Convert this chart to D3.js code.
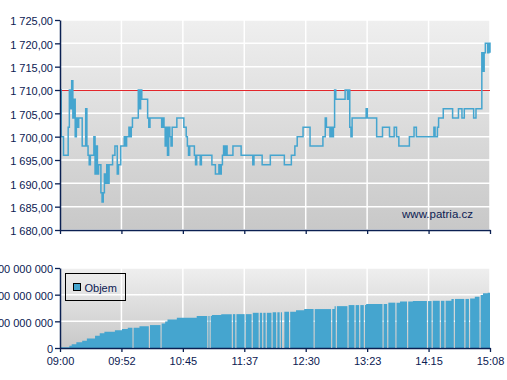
<!DOCTYPE html>
<html>
<head>
<meta charset="utf-8">
<script src="https://cdn.jsdelivr.net/npm/d3@7"></script>
<style>
  body { margin: 0; background: #fff; }
  text { font-family: Arial, "Liberation Sans", sans-serif; }
</style>
</head>
<body>
<div id="chart"></div>
<script>
"use strict";

/* global d3 */

// price in CZK, value from that minute on
const priceTimes = [
  "09:00", "09:01", "09:03", "09:07", "09:08", "09:09", "09:10", "09:11", "09:12", "09:13",
  "09:14", "09:15", "09:16", "09:19", "09:22", "09:23", "09:24", "09:25", "09:26", "09:29",
  "09:30", "09:31", "09:32", "09:33", "09:35", "09:36", "09:37", "09:38", "09:39", "09:40",
  "09:41", "09:42", "09:45", "09:47", "09:49", "09:50", "09:52", "09:55", "09:56", "09:57",
  "09:59", "10:00", "10:01", "10:02", "10:07", "10:08", "10:09", "10:10", "10:15", "10:16",
  "10:17", "10:27", "10:28", "10:29", "10:30", "10:31", "10:32", "10:33", "10:34", "10:35",
  "10:36", "10:40", "10:46", "10:48", "10:49", "10:50", "10:51", "10:55", "10:56", "10:57",
  "11:00", "11:01", "11:10", "11:13", "11:16", "11:17", "11:18", "11:19", "11:20", "11:21",
  "11:22", "11:23", "11:28", "11:35", "11:45", "11:46", "11:53", "12:00", "12:12", "12:18",
  "12:21", "12:23", "12:28", "12:34", "12:45", "12:47", "12:48", "12:51", "12:52", "12:53",
  "12:54", "12:55", "12:56", "13:04", "13:06", "13:07", "13:08", "13:09", "13:10", "13:22",
  "13:23", "13:31", "13:36", "13:42", "13:46", "13:48", "13:50", "13:59", "14:03", "14:05",
  "14:20", "14:21", "14:23", "14:24", "14:28", "14:36", "14:41", "14:44", "14:46", "14:54",
  "14:56", "15:01", "15:02", "15:03", "15:04", "15:06", "15:07", "15:08"
];
const priceValues = [
  1710, 1700, 1696, 1702, 1710, 1706, 1712, 1704, 1708, 1700,
  1704, 1702, 1704, 1698, 1706, 1698, 1696, 1694, 1696, 1700,
  1692, 1698, 1692, 1694, 1688, 1686, 1688, 1692, 1690, 1694,
  1690, 1694, 1696, 1698, 1692, 1694, 1698, 1700, 1698, 1700,
  1702, 1700, 1702, 1704, 1710, 1706, 1710, 1708, 1704, 1702,
  1704, 1702, 1704, 1702, 1698, 1702, 1696, 1702, 1700, 1698,
  1702, 1704, 1702, 1700, 1698, 1696, 1698, 1696, 1694, 1696,
  1694, 1696, 1694, 1692, 1694, 1692, 1694, 1696, 1698, 1696,
  1698, 1696, 1698, 1696, 1694, 1696, 1694, 1696, 1694, 1696,
  1698, 1700, 1702, 1698, 1700, 1704, 1702, 1700, 1702, 1700,
  1702, 1710, 1708, 1710, 1708, 1710, 1702, 1700, 1704, 1706,
  1704, 1700, 1702, 1700, 1702, 1700, 1698, 1700, 1702, 1700,
  1702, 1700, 1702, 1704, 1706, 1704, 1706, 1704, 1706, 1704,
  1706, 1718, 1714, 1718, 1720, 1718, 1720, 1718
];
const refPrice = 1710;
const priceTicks = [1680, 1685, 1690, 1695, 1700, 1705, 1710, 1715, 1720, 1725];

// cumulative volume in millions, value from that minute on
const volTimes = [
  "09:00", "09:08", "09:10", "09:14", "09:19", "09:23", "09:30", "09:34", "09:38", "09:47",
  "09:53", "09:58", "10:08", "10:17", "10:27", "10:30", "10:32", "10:40", "10:57", "11:10",
  "11:18", "11:45", "12:02", "12:12", "12:22", "12:29", "12:55", "13:06", "13:22", "13:41",
  "13:51", "14:02", "14:19", "14:35", "14:51", "14:55", "14:59", "15:02", "15:06"
];
const volValues = [
  3, 8, 14, 22, 27, 36, 46, 55, 61, 67,
  71, 76, 82, 86, 92, 99, 107, 113, 120, 124,
  127, 132, 134, 136, 142, 146, 157, 161, 165, 170,
  174, 176, 177, 184, 186, 192, 199, 205, 207
];
// minutes without trades (white gaps in the bars)
const volGaps = [
  "10:02", "10:16", "10:26", "11:06", "11:08", "11:27", "11:30", "11:38", "11:44", "11:50",
  "11:53", "11:56", "12:01", "12:05", "12:08", "12:10", "12:11", "12:16", "12:37", "12:52",
  "12:56", "13:06", "13:12", "13:16", "13:20", "13:36", "13:40", "13:47", "13:57", "14:14",
  "14:18", "14:25", "14:29", "14:37", "14:46", "14:50", "14:59"
];
const volTicks = [0, 100, 200, 300];

const timeLabels = ["09:00", "09:52", "10:45", "11:37", "12:30", "13:23", "14:15", "15:08"];
const legendLabel = "Objem";
const sourceLabel = "www.patria.cz";

let navy = "#0b2052";
let blue = "#45a5cf";

let parse = d3.timeParse("%H:%M");
let start = parse(timeLabels[0]);
let end = parse(timeLabels[timeLabels.length - 1]);

let cz = d3.formatLocale({ decimal: ",", thousands: " ", grouping: [3], currency: ["", ""] });
let priceFmt = cz.format(",.2f");
let volFmt = d => cz.format(",.0f")(d * 1e6);

let x = d3.scaleTime()
  .domain([start, end])
  .range([60, 490]);

let yP = d3.scaleLinear()
  .domain([priceTicks[0], priceTicks[priceTicks.length - 1]])
  .range([230, 20]);

let yV = d3.scaleLinear()
  .domain([volTicks[0], volTicks[volTicks.length - 1]])
  .range([348, 268]);

// ticks sit at even fractions of the session, labels are rounded minutes
let tickDates = timeLabels.map((d, i) => new Date(+start + (end - start) * i / (timeLabels.length - 1)));

let svg = d3.select("#chart")
  .append("svg")
  .attr("width", 507)
  .attr("height", 380);

let grad = svg.append("defs")
  .append("linearGradient")
  .attr("id", "bg")
  .attr("x1", 0).attr("y1", 0).attr("x2", 0).attr("y2", 1);
grad.append("stop").attr("offset", "0%").attr("stop-color", "#efefef");
grad.append("stop").attr("offset", "100%").attr("stop-color", "#c8c8c8");

function panel(y, ticks) {
  let g = svg.append("g");
  let [y0, y1] = y.range();
  g.append("rect")
    .attr("x", x.range()[0])
    .attr("y", y1)
    .attr("width", x.range()[1] - x.range()[0])
    .attr("height", y0 - y1)
    .attr("fill", "url(#bg)");
  g.selectAll(".hgrid")
    .data(ticks)
    .enter()
    .append("line")
    .attr("x1", x.range()[0]).attr("x2", x.range()[1])
    .attr("y1", d => y(d)).attr("y2", d => y(d))
    .attr("stroke", "#fff")
    .attr("stroke-width", 1.5);
  g.selectAll(".vgrid")
    .data(tickDates.slice(1))
    .enter()
    .append("line")
    .attr("x1", d => x(d)).attr("x2", d => x(d))
    .attr("y1", y1).attr("y2", y0)
    .attr("stroke", "#fff")
    .attr("stroke-width", 1.5);
  return g;
}

function styleAxis(g) {
  g.select(".domain").attr("stroke", navy).attr("stroke-width", 1.5);
  g.selectAll(".tick line").attr("stroke", navy).attr("stroke-width", 1.3);
  g.selectAll(".tick text")
    .attr("fill", navy)
    .style("font-size", "11px")
    .style("font-family", "Arial, 'Liberation Sans', sans-serif");
}

// price panel
panel(yP, priceTicks);

svg.append("line")
  .attr("x1", x.range()[0]).attr("x2", x.range()[1])
  .attr("y1", yP(refPrice) + 0.5).attr("y2", yP(refPrice) + 0.5)
  .attr("stroke", "#e3262b")
  .attr("stroke-width", 1)
  .attr("shape-rendering", "crispEdges");

let priceData = priceTimes.map((t, i) => ({ t: parse(t), p: priceValues[i] }));

let line = d3.line()
  .x(d => x(d.t))
  .y(d => yP(d.p))
  .curve(d3.curveStepAfter);

svg.append("path")
  .datum(priceData)
  .attr("d", line)
  .attr("fill", "none")
  .attr("stroke", blue)
  .attr("stroke-width", 1.5);

svg.append("text")
  .attr("x", 473)
  .attr("y", 218)
  .attr("text-anchor", "end")
  .attr("fill", navy)
  .style("font-size", "11.5px")
  .text(sourceLabel);

svg.append("g")
  .attr("transform", "translate(60,0)")
  .call(d3.axisLeft(yP).tickValues(priceTicks).tickSize(5).tickSizeOuter(0).tickPadding(2).tickFormat(priceFmt))
  .call(styleAxis)
  .selectAll(".tick text").attr("dy", "0.45em");

svg.append("g")
  .attr("transform", "translate(0,230)")
  .call(d3.axisBottom(x).tickValues(tickDates).tickSize(4).tickSizeOuter(0).tickFormat(""))
  .call(styleAxis);

// volume panel
panel(yV, volTicks);

let mins = t => Math.round((parse(t) - start) / 60000);
let total = mins(timeLabels[timeLabels.length - 1]);
let gapSet = new Set(volGaps.map(mins));
let stepMins = volTimes.map(mins);

let runs = [];
let run = null;
let k = 0;
for (let m = 0; m < total; m++) {
  while (k + 1 < stepMins.length && stepMins[k + 1] <= m) k++;
  if (gapSet.has(m)) {
    if (run) { run.push({ m: m, v: run[run.length - 1].v }); runs.push(run); run = null; }
    continue;
  }
  if (!run) run = [];
  if (!run.length || run[run.length - 1].v !== volValues[k]) run.push({ m: m, v: volValues[k] });
}
if (run) { run.push({ m: total, v: run[run.length - 1].v }); runs.push(run); }

let toDate = m => new Date(+start + m * 60000);

let area = d3.area()
  .x(d => x(toDate(d.m)))
  .y0(yV(0))
  .y1(d => yV(d.v))
  .curve(d3.curveStepAfter);

svg.append("g")
  .selectAll("path")
  .data(runs)
  .enter()
  .append("path")
  .attr("d", area)
  .attr("fill", blue);

svg.append("g")
  .attr("transform", "translate(60,0)")
  .call(d3.axisLeft(yV).tickValues(volTicks).tickSize(5).tickSizeOuter(0).tickPadding(2).tickFormat(volFmt))
  .call(styleAxis)
  .selectAll(".tick text").attr("dy", "0.45em");

svg.append("g")
  .attr("transform", "translate(0,348)")
  .call(d3.axisBottom(x).tickValues(tickDates).tickSize(4).tickSizeOuter(0).tickPadding(5)
    .tickFormat((d, i) => timeLabels[i]))
  .call(styleAxis);

// legend
let legend = svg.append("g").attr("transform", "translate(65.5,273.5)");
legend.append("rect")
  .attr("width", 60).attr("height", 27)
  .attr("fill", "none")
  .attr("stroke", "#000");
legend.append("rect")
  .attr("x", 8).attr("y", 10)
  .attr("width", 7).attr("height", 7)
  .attr("fill", blue)
  .attr("stroke", "#000");
legend.append("text")
  .attr("x", 19).attr("y", 18.5)
  .attr("fill", navy)
  .style("font-size", "11px")
  .text(legendLabel);
</script>
</body>
</html>
